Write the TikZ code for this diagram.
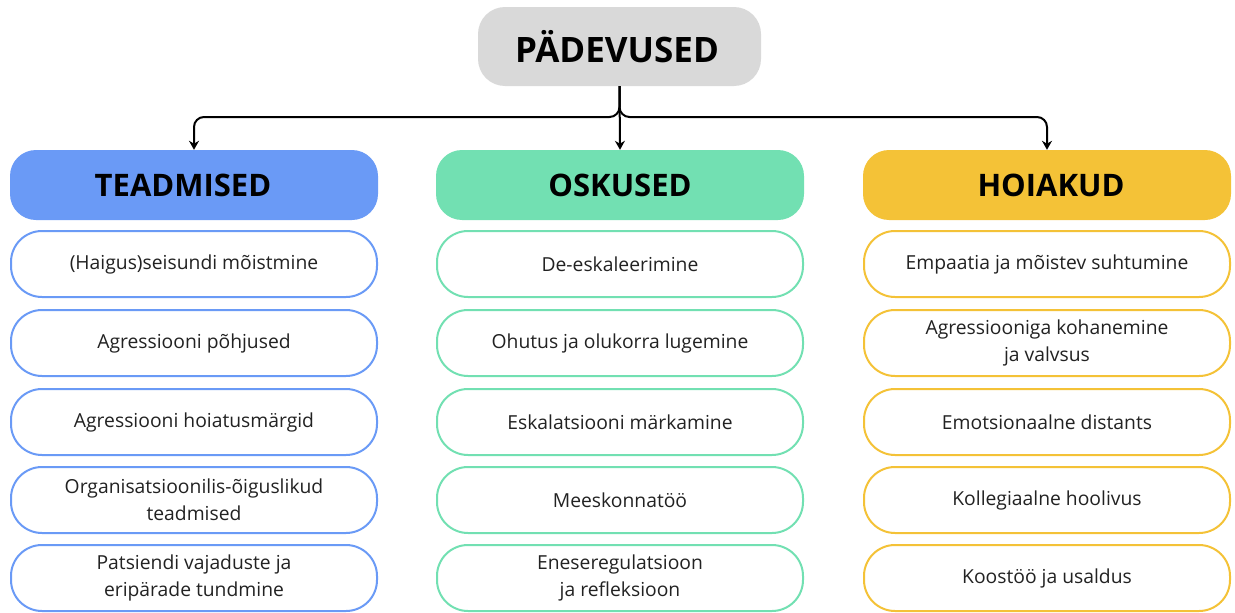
\documentclass[tikz,border=0pt]{standalone}
\usepackage{fontspec}
\setmainfont{Open Sans}
\usetikzlibrary{arrows.meta}
\definecolor{cgray}{HTML}{D9D9D9}
\definecolor{cblue}{HTML}{6A9AF6}
\definecolor{cgreen}{HTML}{72E0B2}
\definecolor{cyellow}{HTML}{F4C237}
\definecolor{ctext}{HTML}{222222}
\tikzset{
  topbox/.style={fill=cgray, draw=none, rounded corners=27pt, minimum width=283pt, minimum height=79pt, inner sep=0pt, font=\fontsize{35}{40}\selectfont\bfseries},
  headbox/.style={draw=none, rounded corners=26pt, minimum width=368pt, minimum height=70pt, inner sep=0pt, font=\fontsize{31}{37}\selectfont\bfseries},
  itembox/.style={fill=white, draw=#1, line width=2pt, rounded corners=31pt, minimum width=366pt, minimum height=66pt, inner sep=0pt, align=center, text=ctext, font=\fontsize{19.3}{27.5}\selectfont},
  conn/.style={line width=2pt, rounded corners=10pt, -{Stealth[length=9pt,width=10pt]}}
}
\begin{document}
\begin{tikzpicture}[x=1pt,y=-1pt]
\useasboundingbox (0,0) rectangle (1235,613);
\node[topbox] (top) at (619.5,46.5) {\hspace*{-5pt}PÄDEVUSED};
\node[headbox, fill=cblue] (h1) at (194,185) {\hspace*{-22pt}TEADMISED};
\node[headbox, fill=cgreen] (h2) at (620,185) {OSKUSED};
\node[headbox, fill=cyellow] (h3) at (1047,185) {\hspace*{8pt}HOIAKUD};
\coordinate (bar) at (620,117);
\draw[conn] (top.south) |- (h1.north |- bar) -- (h1.north);
\draw[conn] (top.south) |- (h3.north |- bar) -- (h3.north);
\draw[conn] (top.south) -- (h2.north);
% column 1
\node[itembox=cblue] (a1) at (194,264) {(Haigus)seisundi mõistmine};
\node[itembox=cblue] (a2) at (194,343) {Agressiooni põhjused};
\node[itembox=cblue] (a3) at (194,422) {Agressiooni hoiatusmärgid};
\node[itembox=cblue] (a4) at (194,500) {Organisatsioonilis-õiguslikud\\teadmised};
\node[itembox=cblue] (a5) at (194,578) {Patsiendi vajaduste ja\\eripärade tundmine};
% column 2
\node[itembox=cgreen] (b1) at (620,264) {De-eskaleerimine};
\node[itembox=cgreen] (b2) at (620,343) {Ohutus ja olukorra lugemine};
\node[itembox=cgreen] (b3) at (620,422) {Eskalatsiooni märkamine};
\node[itembox=cgreen] (b4) at (620,500) {Meeskonnatöö};
\node[itembox=cgreen] (b5) at (620,578) {Eneseregulatsioon\\ja refleksioon};
% column 3
\node[itembox=cyellow] (c1) at (1047,264) {Empaatia ja mõistev suhtumine};
\node[itembox=cyellow] (c2) at (1047,343) {Agressiooniga kohanemine\\ja valvsus};
\node[itembox=cyellow] (c3) at (1047,422) {Emotsionaalne distants};
\node[itembox=cyellow] (c4) at (1047,500) {Kollegiaalne hoolivus};
\node[itembox=cyellow] (c5) at (1047,578) {Koostöö ja usaldus};
\end{tikzpicture}
\end{document}
